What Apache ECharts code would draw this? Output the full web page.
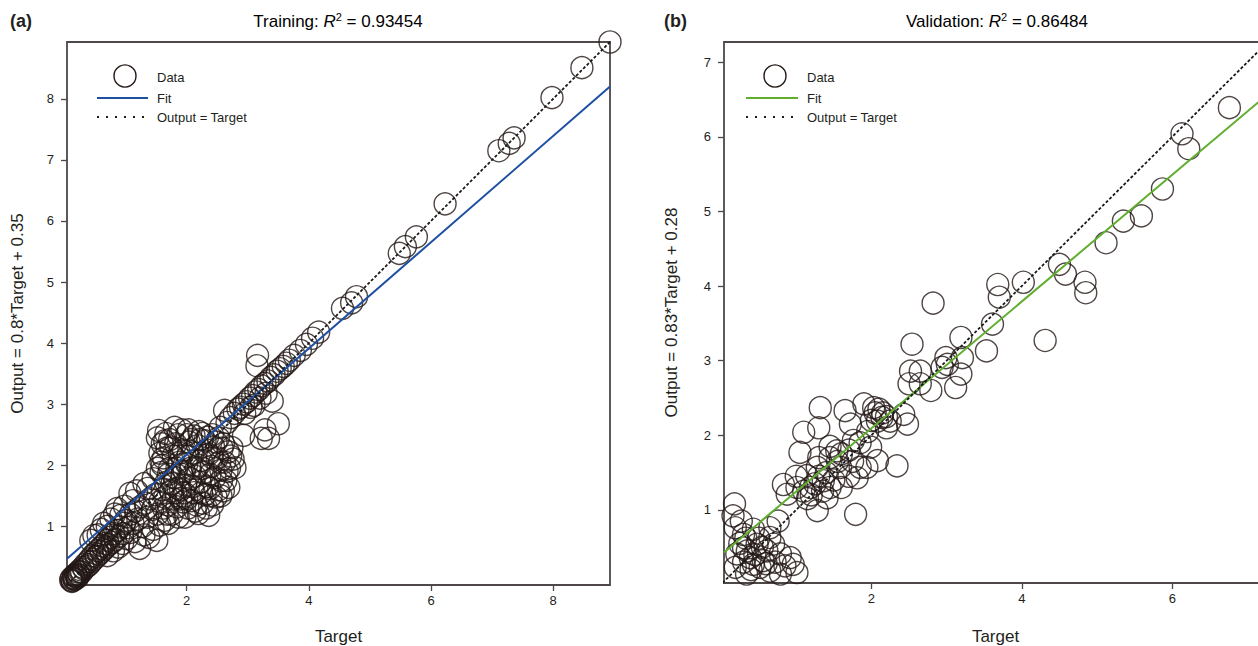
<!DOCTYPE html>
<html>
<head>
<meta charset="utf-8">
<title>Training / Validation regression</title>
<script src="https://cdn.jsdelivr.net/npm/echarts@6/dist/echarts.min.js"></script>
<style>
  html, body { margin: 0; padding: 0; background: #fff; overflow: hidden; }
  /* the reference crops the right frame a few px, so the canvas is wider than the window */
  #chart { width: 1268px; height: 646px; }
</style>
</head>
<body>
<div id="chart"></div>
<script>
// ---- data ----
const trainPts = [
  [0.1,0.12],[0.12,0.1],[0.14,0.16],[0.16,0.13],[0.18,0.2],[0.2,0.18],[0.22,0.25],[0.24,0.21],[0.26,0.29],[0.28,0.25],
  [0.3,0.33],[0.32,0.3],[0.34,0.38],[0.36,0.34],[0.38,0.42],[0.4,0.37],[0.42,0.47],[0.44,0.42],[0.46,0.52],[0.48,0.46],
  [0.5,0.56],[0.52,0.5],[0.54,0.6],[0.56,0.54],[0.58,0.64],[0.6,0.58],[0.62,0.68],[0.64,0.62],[0.66,0.72],[0.68,0.66],
  [0.7,0.77],[0.72,0.7],[0.75,0.82],[0.78,0.74],[0.8,0.88],[0.83,0.78],[0.86,0.93],[0.89,0.84],[0.92,0.99],[0.95,0.88],[0.98,1.05],
  [0.11,0.15],[0.13,0.11],[0.15,0.19],[0.17,0.14],[0.19,0.22],[0.21,0.16],[0.23,0.2],[0.25,0.26],
  [0.43,0.77],[0.48,0.85],[0.55,0.86],[0.6,0.95],[0.64,1.05],[0.7,1.0],[0.76,1.12],[0.82,1.2],[0.86,1.29],[0.92,1.18],
  [0.98,1.33],[1.07,1.54],[1.12,1.42],[1.18,1.58],[1.3,1.7],[1.36,1.62],[1.45,1.78],[1.52,1.95],[1.58,2.05],
  [0.7,0.52],[0.8,0.6],[0.88,0.66],[0.95,0.72],[1.02,0.8],[1.08,0.9],[1.15,0.75],[1.23,0.64],[1.3,0.86],[1.38,0.82],
  [1.45,0.95],[1.51,0.77],[1.56,1.02],
  [1.0,1.1],[1.04,0.98],[1.08,1.2],[1.12,1.05],[1.16,1.25],[1.2,1.12],[1.24,1.32],[1.28,1.0],[1.32,1.38],[1.36,1.15],
  [1.4,1.45],[1.44,1.28],[1.48,1.52],[1.52,1.2],[1.56,1.4],[1.6,1.6],[1.62,1.3],[1.64,1.1],
  [1.52,2.45],[1.54,2.57],[1.6,2.35],[1.66,2.52],[1.72,2.42],[1.8,2.62],[1.86,2.5],[1.92,2.58],[2.0,2.5],[2.03,2.58],
  [2.12,2.48],[2.2,2.55],[2.26,2.52],[2.34,2.46],[2.42,2.5],
  [1.56,2.2],[1.58,1.88],[1.62,2.12],[1.66,1.72],[1.68,2.28],[1.72,1.95],[1.74,1.58],[1.78,2.15],[1.8,1.8],[1.82,2.35],
  [1.86,1.62],[1.88,2.05],[1.92,1.85],[1.94,2.25],[1.98,1.68],[2.0,2.02],[2.04,2.38],[2.06,1.78],[2.1,2.2],[2.12,1.55],
  [2.16,1.95],[2.18,2.32],[2.22,1.72],[2.24,2.08],[2.28,1.88],[2.3,2.4],[2.34,1.65],[2.36,2.18],[2.4,1.98],[2.44,2.3],
  [2.46,1.8],[2.5,2.12],[2.52,2.45],[2.56,1.92],[2.58,2.28],[2.62,2.05],[2.64,1.75],[2.68,2.22],[2.7,1.95],[2.74,2.29],
  [2.76,2.1],[2.79,1.96],[2.69,1.64],[2.6,1.58],[2.57,1.75],[2.52,1.6],
  [1.7,1.05],[1.76,1.2],[1.84,1.32],[1.9,1.45],[1.97,1.15],[2.02,1.3],[2.08,1.42],[2.14,1.25],[2.19,1.21],[2.26,1.38],
  [2.3,1.52],[2.36,1.18],[2.42,1.35],[2.48,1.48],[1.64,1.48],[1.7,1.35],[1.78,1.45],[1.96,1.55],[2.38,1.62],
  [1.6,2.0],[1.64,2.4],[1.7,1.85],[1.74,2.3],[1.76,1.7],[1.84,1.95],[1.88,2.2],[1.9,1.6],[1.96,1.9],[2.02,2.15],
  [2.06,1.95],[2.08,2.42],[2.14,1.82],[2.2,2.0],[2.22,2.42],[2.26,1.95],[2.32,2.25],[2.38,1.85],[2.42,2.12],[2.48,2.38],
  [2.54,2.05],[2.6,2.35],[2.66,1.9],[2.72,2.15],[1.82,1.55],[1.94,1.4],[2.1,1.65],[2.24,1.55],[2.4,1.5],[2.56,1.5],
  [1.68,1.2],[1.86,1.15],[2.0,1.45],[2.16,1.35],[2.32,1.3],
  [2.62,2.9],[2.55,2.62],[2.66,2.7],[2.72,2.78],[2.78,2.85],[2.84,2.92],
  [2.88,2.95],[2.93,3.0],[2.98,3.04],[3.03,3.1],[3.08,3.14],[3.13,3.2],[3.18,3.24],[3.23,3.3],[3.28,3.34],[3.33,3.38],
  [3.38,3.44],[3.43,3.48],[3.48,3.54],[3.53,3.58],[3.58,3.62],[3.63,3.67],[3.68,3.72],[3.76,3.8],[3.86,3.88],[3.96,3.98],
  [4.06,4.08],[4.16,4.18],
  [2.95,2.85],[3.05,2.95],[3.2,3.1],[3.3,3.18],[3.1,2.98],
  [3.16,3.8],[3.15,3.63],[2.93,2.49],[3.22,2.44],[3.34,2.44],[3.5,2.68],[3.4,3.05],[3.28,2.58],
  [4.55,4.57],[4.7,4.66],[4.78,4.76],[5.48,5.47],[5.58,5.58],[5.76,5.74],[6.23,6.28],[7.11,7.15],[7.28,7.27],[7.36,7.36],
  [7.98,8.02],[8.47,8.51],[8.93,8.93]
];

const validPts = [
  [0.18,1.08],[0.16,0.92],[0.19,0.76],[0.3,0.67],[0.43,0.74],[0.76,0.85],[0.65,0.76],[0.19,0.23],[0.34,0.14],[0.52,0.23],
  [0.65,0.18],[0.92,0.36],[1.01,0.16],[0.96,0.27],[0.79,0.14],[0.3,0.49],[0.48,0.54],[0.61,0.45],[0.39,0.36],[0.7,0.54],
  [0.56,0.32],[0.21,0.41],[0.43,0.27],[0.79,0.41],[0.65,0.63],[0.25,0.55],[0.35,0.45],[0.45,0.4],[0.55,0.5],[0.3,0.3],
  [0.4,0.2],[0.6,0.28],[0.5,0.62],[0.33,0.62],[0.27,0.85],[0.85,0.25],[0.72,0.3],
  [1.32,2.37],[1.1,2.04],[1.3,2.1],[1.05,1.77],[0.83,1.34],[0.88,1.21],[1.01,1.3],[1.14,1.46],[1.28,1.57],[1.19,1.3],
  [1.36,1.39],[1.28,0.99],[1.41,1.16],[1.45,1.7],[1.54,1.79],[1.59,1.57],[1.45,1.3],[1.65,2.33],[1.72,2.15],[1.76,1.93],
  [1.81,1.43],[1.85,1.57],[1.79,0.94],[1.94,1.57],[1.99,1.84],[2.08,1.66],[1.9,2.42],[2.03,2.37],[2.08,2.19],[2.14,2.24],
  [2.25,2.19],[2.34,1.59],[2.43,2.28],[2.48,2.15],
  [1.2,1.2],[1.25,1.35],[1.3,1.45],[1.35,1.25],[1.4,1.5],[1.5,1.4],[1.55,1.65],[1.6,1.75],[1.7,1.8],[1.75,1.65],
  [1.85,1.9],[1.95,2.05],[2.0,2.2],[2.05,2.3],[2.1,2.35],[2.15,2.3],[2.2,2.25],[1.15,1.15],[1.1,1.25],[1.3,1.7],
  [1.45,1.85],[1.0,1.45],[1.6,1.3],[1.7,1.45],[2.2,2.1],
  [2.54,3.22],[2.52,2.86],[2.65,2.86],[2.5,2.69],[2.79,2.6],[2.65,2.69],[2.82,3.77],[2.99,3.04],[3.01,2.95],[3.19,3.31],
  [3.21,3.04],[3.19,2.82],[3.12,2.64],[2.94,2.91],[3.53,3.13],[3.61,3.49],[3.7,3.85],[3.68,4.02],
  [4.02,4.05],[4.31,3.27],[4.5,4.29],[4.58,4.16],[4.84,4.05],[4.85,3.91],[5.12,4.58],[5.35,4.87],[5.59,4.94],[5.87,5.3],
  [6.13,6.04],[6.22,5.84],[6.76,6.39]
];

// fitted lines as drawn (end points at the frame)
const trainFit = [[0.04, 0.47], [8.93, 8.2]];
const validFit = [[0.04, 0.43], [7.26, 6.56]];
const trainIdentity = [[0.04, 0.04], [8.93, 8.93]];
const validIdentity = [[0.02, 0.02], [7.26, 7.26]];

// axis ranges and tick labels
const trainRange = [0.04, 8.93];
const validXRange = [0.04, 7.26];
const validYRange = [0.02, 7.27];
const xTicksA = [2, 4, 6, 8];
const yTicksA = [1, 2, 3, 4, 5, 6, 7, 8];
const xTicksB = [2, 4, 6];
const yTicksB = [1, 2, 3, 4, 5, 6, 7];

// ---- styling ----
const FONT = "'Liberation Sans', Arial, sans-serif";
const INK = '#231f20';
const FRAME = '#4e4848';
const CIRCLE = '#231815';
const BLUE = '#1d4fa2';
const GREEN = '#5fae2e';

const chart = echarts.init(document.getElementById('chart'), null, { renderer: 'svg' });

function xAxisCfg(idx, range, ticks, gap) {
  return {
    type: 'value', gridIndex: idx, min: range[0], max: range[1],
    name: 'Target', nameLocation: 'middle', nameGap: gap,
    nameTextStyle: { fontFamily: FONT, fontSize: 17, color: INK },
    axisLine: { show: false },
    axisTick: { show: true, length: 6, customValues: ticks, lineStyle: { color: FRAME, width: 1.3 } },
    axisLabel: { customValues: ticks, margin: 9, fontFamily: FONT, fontSize: 13, color: INK },
    splitLine: { show: false }
  };
}

function yAxisCfg(idx, range, ticks, name, gap) {
  return {
    type: 'value', gridIndex: idx, min: range[0], max: range[1],
    name: name, nameLocation: 'middle', nameGap: gap, nameRotate: 90,
    nameTextStyle: { fontFamily: FONT, fontSize: 17, color: INK },
    axisLine: { show: false },
    axisTick: { show: true, length: 6, customValues: ticks, lineStyle: { color: FRAME, width: 1.3 } },
    axisLabel: { customValues: ticks, margin: 13, fontFamily: FONT, fontSize: 13, color: INK },
    splitLine: { show: false }
  };
}

function scatter(idx, data) {
  return {
    type: 'scatter', xAxisIndex: idx, yAxisIndex: idx, data: data,
    symbol: 'circle', symbolSize: 22, silent: true, z: 2,
    itemStyle: { color: 'rgba(0,0,0,0)', borderColor: CIRCLE, borderWidth: 1.4 }
  };
}

function line(idx, data, style) {
  return {
    type: 'line', xAxisIndex: idx, yAxisIndex: idx, data: data,
    symbol: 'none', silent: true, z: 3, lineStyle: style
  };
}

// legend drawn by hand so the marks match the reference
function legend(x0, cx, tx, fitColor) {
  return [
    { type: 'circle', shape: { cx: cx, cy: 76, r: 11 },
      style: { fill: 'none', stroke: CIRCLE, lineWidth: 1.4 } },
    { type: 'line', shape: { x1: x0, y1: 98, x2: tx - 9, y2: 98 },
      style: { stroke: fitColor, lineWidth: 2 } },
    { type: 'line', shape: { x1: x0, y1: 117, x2: tx - 9, y2: 117 },
      style: { stroke: '#1a1a1a', lineWidth: 2, lineDash: [2, 7] } },
    { type: 'text', style: { text: 'Data', x: tx, y: 77, font: '13px ' + FONT, fill: INK, verticalAlign: 'middle' } },
    { type: 'text', style: { text: 'Fit', x: tx, y: 98, font: '13px ' + FONT, fill: INK, verticalAlign: 'middle' } },
    { type: 'text', style: { text: 'Output = Target', x: tx, y: 117, font: '13px ' + FONT, fill: INK, verticalAlign: 'middle' } }
  ];
}

function heading(cx, label, r2) {
  return {
    type: 'text',
    style: {
      text: '{n|' + label + ': }{i|R}{s|2}{n| = ' + r2 + '}',
      x: cx, y: 21, align: 'center', verticalAlign: 'middle',
      rich: {
        n: { fontFamily: FONT, fontSize: 17, color: INK, lineHeight: 20 },
        i: { fontFamily: FONT, fontSize: 17, color: INK, fontStyle: 'italic', lineHeight: 20 },
        s: { fontFamily: FONT, fontSize: 11, color: INK, verticalAlign: 'top', lineHeight: 20 }
      }
    }
  };
}

const option = {
  animation: false,
  backgroundColor: '#fff',
  grid: [
    { left: 67, top: 42, width: 543, height: 543, outerBoundsMode: 'none',
      show: true, borderColor: FRAME, borderWidth: 1.8, backgroundColor: 'transparent' },
    { left: 724, top: 42, width: 543, height: 541, outerBoundsMode: 'none',
      show: true, borderColor: FRAME, borderWidth: 1.8, backgroundColor: 'transparent' }
  ],
  xAxis: [
    xAxisCfg(0, trainRange, xTicksA, 43),
    xAxisCfg(1, validXRange, xTicksB, 45)
  ],
  yAxis: [
    yAxisCfg(0, trainRange, yTicksA, 'Output = 0.8*Target + 0.35', 41),
    yAxisCfg(1, validYRange, yTicksB, 'Output = 0.83*Target + 0.28', 44)
  ],
  series: [
    scatter(0, trainPts),
    line(0, trainFit, { color: BLUE, width: 2 }),
    line(0, trainIdentity, { color: '#1a1a1a', width: 1.8, type: [3, 2] }),
    scatter(1, validPts),
    line(1, validFit, { color: GREEN, width: 2 }),
    line(1, validIdentity, { color: '#1a1a1a', width: 1.8, type: [3, 2] })
  ],
  graphic: [
    { type: 'text', style: { text: '(a)', x: 10, y: 21, font: 'bold 18px ' + FONT, fill: INK, verticalAlign: 'middle' } },
    { type: 'text', style: { text: '(b)', x: 664, y: 21, font: 'bold 18px ' + FONT, fill: INK, verticalAlign: 'middle' } },
    heading(338, 'Training', '0.93454'),
    heading(997, 'Validation', '0.86484')
  ].concat(legend(97, 125, 157, BLUE), legend(746, 775, 807, GREEN))
};

chart.setOption(option);
</script>
</body>
</html>
